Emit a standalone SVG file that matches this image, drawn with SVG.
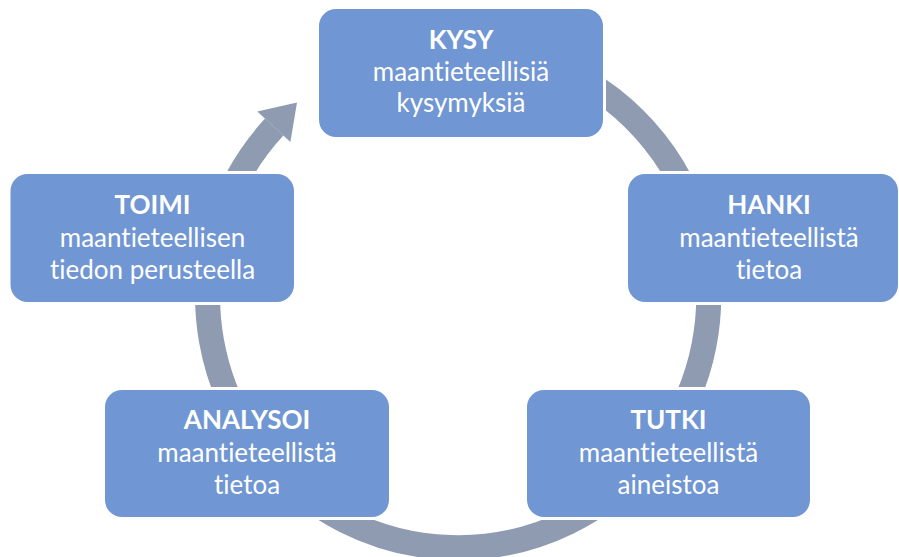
<svg xmlns="http://www.w3.org/2000/svg" width="899" height="557" viewBox="0 0 899 557">
<style>
.box{fill:#7096D3;stroke:#FFFFFF;stroke-width:6;paint-order:stroke}
.t{font-family:Lato,"Liberation Sans",sans-serif;font-size:26px;fill:#FFFFFF;text-anchor:middle;font-variant-ligatures:none;font-feature-settings:"liga" 0,"clig" 0}
.b{font-weight:bold}
.ring{fill:none;stroke:#8E9BB1;stroke-width:25}
</style>
<rect x="0" y="0" width="899" height="557" fill="#FFFFFF"/>
<g id="connectors">
<path class="ring" d="M 437.2 47.5 A 250.5 250.5 0 1 1 274.2 127.1"/>
<polygon points="257.3,111.5 297,102.5 290.4,142" fill="#8E9BB1"/>
</g>
<g id="kysy">
<rect class="box" x="319" y="9" width="284" height="128" rx="17"/>
<text class="t b" x="461" y="49">KYSY</text>
<text class="t" x="461" y="81">maantieteellisiä</text>
<text class="t" x="461" y="112">kysymyksiä</text>
</g>
<g id="hanki">
<rect class="box" x="628" y="174" width="270" height="128" rx="17"/>
<text class="t b" x="769" y="214">HANKI</text>
<text class="t" x="769" y="247">maantieteellistä</text>
<text class="t" x="769" y="279">tietoa</text>
</g>
<g id="tutki">
<rect class="box" x="527" y="390" width="283" height="127" rx="17"/>
<text class="t b" x="668.5" y="429">TUTKI</text>
<text class="t" x="668.5" y="462">maantieteellistä</text>
<text class="t" x="668.5" y="494">aineistoa</text>
</g>
<g id="analysoi">
<rect class="box" x="105" y="390" width="284" height="127" rx="17"/>
<text class="t b" x="247" y="429">ANALYSOI</text>
<text class="t" x="247" y="462">maantieteellistä</text>
<text class="t" x="247" y="494">tietoa</text>
</g>
<g id="toimi">
<rect class="box" x="10.5" y="174" width="283.5" height="128" rx="17"/>
<text class="t b" x="152.5" y="214">TOIMI</text>
<text class="t" x="152.5" y="247">maantieteellisen</text>
<text class="t" x="152.5" y="279">tiedon perusteella</text>
</g>
</svg>
